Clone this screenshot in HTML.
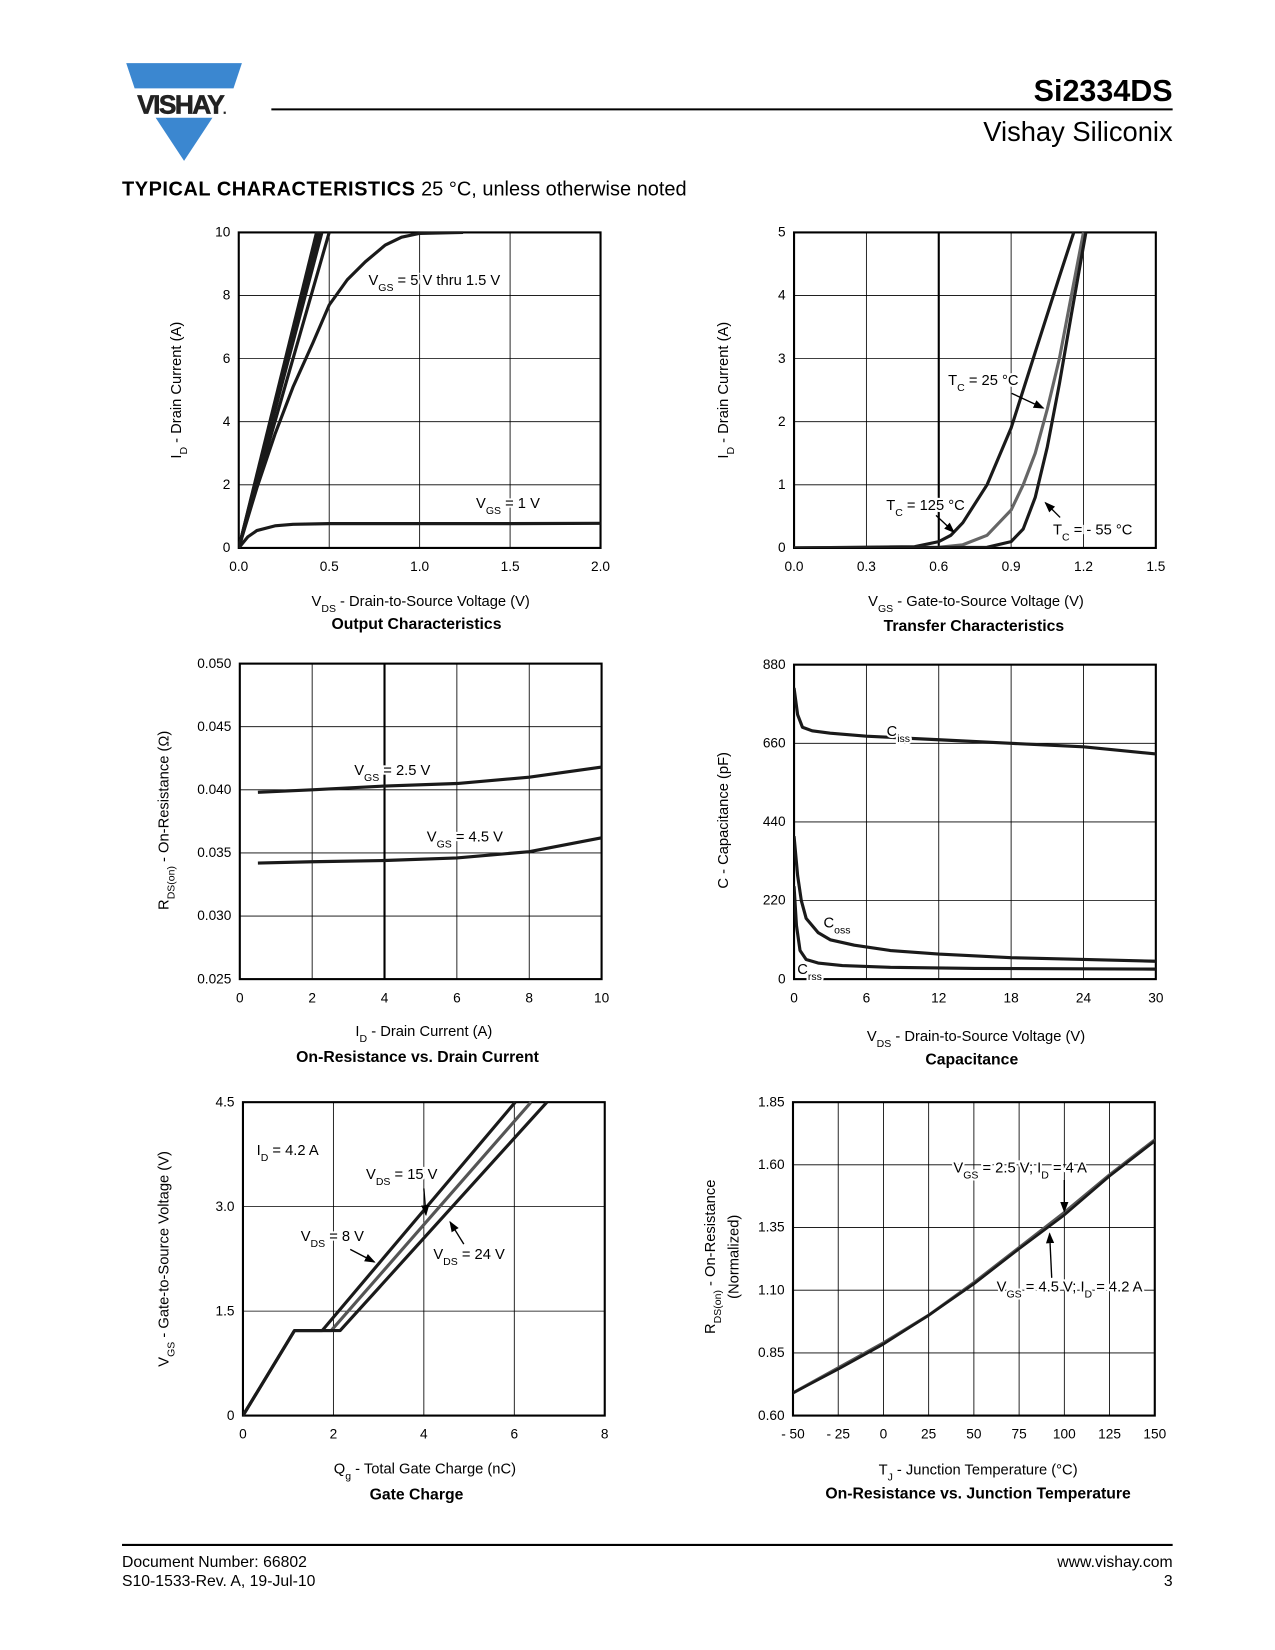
<!DOCTYPE html>
<html><head><meta charset="utf-8"><style>
body{margin:0;background:#fff}
svg{display:block;font-family:"Liberation Sans",Arial,sans-serif}
</style></head><body>
<svg id="pg" width="1275" height="1650" viewBox="0 0 1212.3 1568.9" xmlns="http://www.w3.org/2000/svg">
<defs><marker id="ah" markerWidth="8" markerHeight="8" refX="7" refY="4" orient="auto"><path d="M0,1 L8,4 L0,7 Z" fill="#000"/></marker></defs>
<g>
<polygon points="120,60 230,60 222,84 128,84" fill="#3b87d0"/>
<polygon points="148,112 202,112 175,153" fill="#3b87d0"/>
<text x="172" y="108" font-size="25" font-weight="bold" text-anchor="middle" fill="#222" stroke="#222" stroke-width="0.6" letter-spacing="-1.5">VISHAY<tspan font-size="10">.</tspan></text>
</g>
<line x1="258" y1="104" x2="1115" y2="104" stroke="#000" stroke-width="2"/>
<text x="1115" y="96" font-size="29" font-weight="bold" text-anchor="end">Si2334DS</text>
<text x="1115" y="134" font-size="26" text-anchor="end">Vishay Siliconix</text>
<text x="116" y="186" font-size="19"><tspan font-weight="bold" letter-spacing="0.5">TYPICAL CHARACTERISTICS</tspan> 25 °C, unless otherwise noted</text>
<line x1="116" y1="1469" x2="1115" y2="1469" stroke="#000" stroke-width="2"/>
<text x="116" y="1490" font-size="15">Document Number: 66802</text>
<text x="116" y="1508" font-size="15">S10-1533-Rev. A, 19-Jul-10</text>
<text x="1115" y="1490" font-size="15" text-anchor="end">www.vishay.com</text>
<text x="1115" y="1508" font-size="15" text-anchor="end">3</text>
</svg>
<script>
// ---- Chart 1: Output characteristics ----
const outXTicks=["0.0","0.5","1.0","1.5","2.0"];
const outYTicks=["0","2","4","6","8","10"];
const outVds1V=[0,0.05,0.1,0.2,0.3,0.5,1.0,1.5,2.0];
const outId1V=[0,0.35,0.55,0.7,0.75,0.77,0.77,0.77,0.78];
const outVds15V=[0,0.1,0.2,0.3,0.41,0.5,0.6,0.7,0.81,0.9,1.0,1.24];
const outId15V=[0,1.9,3.6,5.1,6.5,7.7,8.5,9.07,9.6,9.85,9.97,10];
const outSteepEnds=[0.43,0.44,0.45,0.46,0.5];
// ---- Chart 2: Transfer ----
const trXTicks=["0.0","0.3","0.6","0.9","1.2","1.5"];
const trYTicks=["0","1","2","3","4","5"];
const trVgs125=[0,0.5,0.6,0.65,0.7,0.8,0.9,1.0,1.1,1.16];
const trId125=[0,0.02,0.1,0.2,0.4,1.0,1.9,3.1,4.3,5];
const trVgs25=[0,0.6,0.7,0.8,0.9,0.95,1.0,1.05,1.1,1.15,1.2];
const trId25=[0,0.01,0.05,0.2,0.6,1.0,1.5,2.2,3.0,4.0,5.0];
const trVgsM55=[0,0.8,0.9,0.95,1.0,1.05,1.1,1.15,1.21];
const trIdM55=[0,0.01,0.1,0.3,0.8,1.6,2.6,3.7,5];
// ---- Chart 3: Ron vs Id ----
const rdXTicks=["0","2","4","6","8","10"];
const rdYTicks=["0.025","0.030","0.035","0.040","0.045","0.050"];
const rdId=[0.5,2,4,6,8,10];
const rdRon25=[0.0398,0.0400,0.0403,0.0405,0.0410,0.0418];
const rdRon45=[0.0342,0.0343,0.0344,0.0346,0.0351,0.0362];
// ---- Chart 4: Capacitance ----
const cXTicks=["0","6","12","18","24","30"];
const cYTicks=["0","220","440","660","880"];
const cVds=[0,0.3,0.7,1.5,3,6,12,18,24,30];
const cCiss=[815,740,705,695,688,680,670,660,650,630];
const cVdsO=[0,0.3,0.6,1,2,3,5,8,12,18,24,30];
const cCoss=[400,290,220,170,130,110,95,80,70,60,55,50];
const cVdsR=[0,0.2,0.5,1,2,4,8,15,30];
const cCrss=[260,150,80,55,45,38,33,30,28];
// ---- Chart 5: Gate charge ----
const gXTicks=["0","2","4","6","8"];
const gYTicks=["0","1.5","3.0","4.5"];
const gQg8=[0,1.14,1.75,6.02];
const gQg15=[0,1.14,1.95,6.37];
const gQg24=[0,1.14,2.15,6.72];
const gVgs=[0,1.22,1.22,4.5];
// ---- Chart 6: Ron vs Tj ----
const tXTicks=["- 50","- 25","0","25","50","75","100","125","150"];
const tYTicks=["0.60","0.85","1.10","1.35","1.60","1.85"];
const tTj=[-50,-25,0,25,50,75,100,125,150];
const tRon25=[0.69,0.79,0.89,1.00,1.13,1.27,1.41,1.56,1.70];
const tRon45=[0.69,0.785,0.885,1.00,1.125,1.265,1.40,1.555,1.695];

const NS="http://www.w3.org/2000/svg";
const pg=document.getElementById('pg');
function mk(tag,attrs,parent){const e=document.createElementNS(NS,tag);for(const k in attrs)e.setAttribute(k,attrs[k]);(parent||pg).appendChild(e);return e;}
function chart(c){
  const g=mk('g',{});
  
  
  const sx=v=>c.x0+(v-c.xd[0])/(c.xd[1]-c.xd[0])*(c.x1-c.x0);
  const sy=v=>c.y1-(v-c.yd[0])/(c.yd[1]-c.yd[0])*(c.y1-c.y0);
  c.xTicks.forEach((t,i)=>{const x=c.x0+i*(c.x1-c.x0)/(c.xTicks.length-1);
    if(i>0&&i<c.xTicks.length-1){const l=mk('line',{x1:x,x2:x,y1:c.y0,y2:c.y1,stroke:'#000','stroke-width':(c.heavyX===i?2:0.8)},g);}
    const tx=mk('text',{x:x,y:c.y1+22,'font-size':13,'text-anchor':'middle'},g);tx.textContent=t;
    });
  c.yTicks.forEach((t,i)=>{const y=c.y1-i*(c.y1-c.y0)/(c.yTicks.length-1);
    if(i>0&&i<c.yTicks.length-1){const l=mk('line',{x1:c.x0,x2:c.x1,y1:y,y2:y,stroke:'#000','stroke-width':0.8},g);}
    const tx=mk('text',{x:c.x0-8,y:y+4,'font-size':13,'text-anchor':'end'},g);tx.textContent=t;
    });
  const fr=mk('rect',{x:c.x0,y:c.y0,width:c.x1-c.x0,height:c.y1-c.y0,fill:'none',stroke:'#000','stroke-width':2},g);
  
  const cp=mk('clipPath',{id:'cp'+c.name},g);mk('rect',{x:c.x0,y:c.y0-1,width:c.x1-c.x0,height:c.y1-c.y0+1},cp);
  c.series.forEach(s=>{const d=s.xs.map((v,i)=>(i?'L':'M')+sx(v).toFixed(1)+','+sy(s.ys[i]).toFixed(1)).join(' ');
    const p=mk('path',{d:d,fill:'none',stroke:s.color||'#1a1a1a','stroke-width':s.w||3,'stroke-linejoin':'round','clip-path':'url(#cp'+c.name+')'},g);
    });
  c.labels.forEach(L=>{const t=mk('text',{x:L.x,y:L.y,'font-size':L.fs||14,'text-anchor':L.a||'middle','font-weight':L.b?'bold':'normal',stroke:'#fff','stroke-width':4,'paint-order':'stroke',transform:L.rot?`rotate(-90 ${L.x} ${L.y})`:''},g);
    t.innerHTML=L.html;});
  (c.arrows||[]).forEach(A=>{const a=mk('line',{x1:A[0],y1:A[1],x2:A[2],y2:A[3],stroke:'#000','stroke-width':1.3,'marker-end':'url(#ah)'},g);
    });
}
const sub=s=>`<tspan baseline-shift="sub" font-size="10">${s}</tspan>`;
const steep=outSteepEnds.map((e,i)=>({name:'output-curve-steep-'+i,xs:[0,e],ys:[0,10]}));
chart({name:'output-characteristics-chart',x0:227,x1:571,y0:221,y1:521,xd:[0,2],yd:[0,10],xTicks:outXTicks,yTicks:outYTicks,
 series:[...steep,{name:'output-curve-1p5v',xs:outVds15V,ys:outId15V},{name:'output-curve-1v',xs:outVds1V,ys:outId1V}],
 labels:[{x:413,y:271,html:'V'+sub('GS')+' = 5 V thru 1.5 V',name:'vgs-5v-label'},{x:483,y:483,html:'V'+sub('GS')+' = 1 V',name:'vgs-1v-label'},
  {x:400,y:576,html:'V'+sub('DS')+' - Drain-to-Source Voltage (V)',name:'x-axis-title'},{x:396,y:598,html:'Output Characteristics',b:1,fs:15,name:'chart-title'},
  {x:172,y:371,rot:1,html:'I'+sub('D')+' - Drain Current (A)',name:'y-axis-title'}]});
chart({name:'transfer-characteristics-chart',x0:755,x1:1099,y0:221,y1:521,xd:[0,1.5],yd:[0,5],xTicks:trXTicks,yTicks:trYTicks,heavyX:2,
 series:[{name:'tc-125c-curve',xs:trVgs125,ys:trId125},{name:'tc-25c-curve',xs:trVgs25,ys:trId25,color:'#666'},{name:'tc-minus55c-curve',xs:trVgsM55,ys:trIdM55}],
 labels:[{x:935,y:366,html:'T'+sub('C')+' = 25 °C',name:'tc-25c-label'},{x:880,y:485,html:'T'+sub('C')+' = 125 °C',name:'tc-125c-label'},{x:1039,y:508,html:'T'+sub('C')+' = - 55 °C',name:'tc-minus55c-label'},
  {x:928,y:576,html:'V'+sub('GS')+' - Gate-to-Source Voltage (V)',name:'x-axis-title'},{x:926,y:600,html:'Transfer Characteristics',b:1,fs:15,name:'chart-title'},
  {x:692,y:371,rot:1,html:'I'+sub('D')+' - Drain Current (A)',name:'y-axis-title'}],
 arrows:[[962,374,992,388],[890,490,907,506],[1008,492,994,478]]});
chart({name:'on-resistance-vs-drain-current-chart',x0:228,x1:572,y0:631,y1:931,xd:[0,10],yd:[0.025,0.05],xTicks:rdXTicks,yTicks:rdYTicks,heavyX:2,
 series:[{name:'vgs-2p5v-curve',xs:rdId,ys:rdRon25},{name:'vgs-4p5v-curve',xs:rdId,ys:rdRon45}],
 labels:[{x:373,y:737,html:'V'+sub('GS')+' = 2.5 V',name:'vgs-2p5v-label'},{x:442,y:800,html:'V'+sub('GS')+' = 4.5 V',name:'vgs-4p5v-label'},
  {x:403,y:985,html:'I'+sub('D')+' - Drain Current (A)',name:'x-axis-title'},{x:397,y:1010,html:'On-Resistance vs. Drain Current',b:1,fs:15,name:'chart-title'},
  {x:160,y:780,rot:1,html:'R'+sub('DS(on)')+' - On-Resistance (Ω)',name:'y-axis-title'}]});
chart({name:'capacitance-chart',x0:755,x1:1099,y0:632,y1:931,xd:[0,30],yd:[0,880],xTicks:cXTicks,yTicks:cYTicks,
 series:[{name:'ciss-curve',xs:cVds,ys:cCiss},{name:'coss-curve',xs:cVdsO,ys:cCoss},{name:'crss-curve',xs:cVdsR,ys:cCrss}],
 labels:[{x:843,y:700,html:'C'+sub('iss'),a:'start',name:'ciss-label'},{x:783,y:882,html:'C'+sub('oss'),a:'start',name:'coss-label'},{x:758,y:926,html:'C'+sub('rss'),a:'start',name:'crss-label'},
  {x:928,y:990,html:'V'+sub('DS')+' - Drain-to-Source Voltage (V)',name:'x-axis-title'},{x:924,y:1012,html:'Capacitance',b:1,fs:15,name:'chart-title'},
  {x:692,y:780,rot:1,html:'C - Capacitance (pF)',name:'y-axis-title'}]});
chart({name:'gate-charge-chart',x0:231,x1:575,y0:1048,y1:1346,xd:[0,8],yd:[0,4.5],xTicks:gXTicks,yTicks:gYTicks,
 series:[{name:'vds-8v-curve',xs:gQg8,ys:gVgs},{name:'vds-15v-curve',xs:gQg15,ys:gVgs,color:'#555'},{name:'vds-24v-curve',xs:gQg24,ys:gVgs}],
 labels:[{x:244,y:1098,html:'I'+sub('D')+' = 4.2 A',a:'start',name:'id-label'},{x:382,y:1121,html:'V'+sub('DS')+' = 15 V',name:'vds-15v-label'},
  {x:316,y:1180,html:'V'+sub('DS')+' = 8 V',name:'vds-8v-label'},{x:446,y:1197,html:'V'+sub('DS')+' = 24 V',name:'vds-24v-label'},
  {x:404,y:1401,html:'Q'+sub('g')+' - Total Gate Charge (nC)',name:'x-axis-title'},{x:396,y:1426,html:'Gate Charge',b:1,fs:15,name:'chart-title'},
  {x:160,y:1197,rot:1,html:'V'+sub('GS')+' - Gate-to-Source Voltage (V)',name:'y-axis-title'}],
 arrows:[[403,1130,405,1155],[333,1188,356,1200],[441,1183,428,1162]]});
chart({name:'on-resistance-vs-junction-temp-chart',x0:754,x1:1098,y0:1048,y1:1346,xd:[-50,150],yd:[0.6,1.85],xTicks:tXTicks,yTicks:tYTicks,
 series:[{name:'vgs-2p5v-curve',xs:tTj,ys:tRon25,color:'#555'},{name:'vgs-4p5v-curve',xs:tTj,ys:tRon45,w:2.5}],
 labels:[{x:970,y:1115,html:'V'+sub('GS')+' = 2.5 V; I'+sub('D')+' = 4 A',name:'vgs-2p5v-label'},{x:1017,y:1228,html:'V'+sub('GS')+' = 4.5 V; I'+sub('D')+' = 4.2 A',name:'vgs-4p5v-label'},
  {x:930,y:1402,html:'T'+sub('J')+' - Junction Temperature (°C)',name:'x-axis-title'},{x:930,y:1425,html:'On-Resistance vs. Junction Temperature',b:1,fs:15,name:'chart-title'},
  {x:680,y:1195,rot:1,html:'R'+sub('DS(on)')+' - On-Resistance',name:'y-axis-title'},{x:702,y:1195,rot:1,html:'(Normalized)',name:'y-axis-subtitle'}],
 arrows:[[1012,1122,1012,1152],[1000,1215,998,1173]]});
</script>
</body></html>
